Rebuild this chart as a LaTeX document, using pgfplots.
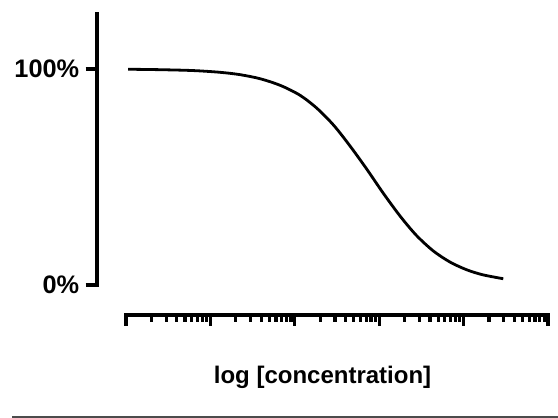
\documentclass[border=0pt]{standalone}
\usepackage{fontspec}
\setmainfont{Liberation Sans}
\usepackage{pgfplots}
\pgfplotsset{compat=1.18}

% curve: x in decades of concentration, y in percent
\begin{document}
\begin{tikzpicture}[x=1pt,y=1pt]
\useasboundingbox (0,0) rectangle (418.5,313.5);

% y axis and curve
\begin{axis}[
    at={(72.75pt,99.75pt)}, anchor=south west,
    scale only axis, width=338.25pt, height=203.6pt,
    xmin=-0.3436, xmax=5, ymin=0, ymax=125.7,
    axis x line=none, axis y line*=left,
    axis line style={line width=2.4pt, line cap=rect, -},
    ytick={0,100}, yticklabels={0\%,100\%},
    tick align=outside, major tick length=8.6pt,
    tick style={black, line width=2.4pt},
    major tick style={black, line width=2.4pt},
    yticklabel style={font=\fontsize{19}{21}\selectfont\bfseries, anchor=east, inner sep=0pt, xshift=-4.5pt},
    clip=false,
]
\addplot[black, line width=2.1pt, smooth] coordinates {
    (0.024,99.9) (0.40,99.7) (0.79,99.3) (1.11,98.5) (1.35,97.4)
    (1.59,95.5) (1.83,92.4) (2.06,87.9) (2.26,81.9) (2.46,74.0)
    (2.65,64.6) (2.85,53.8) (3.05,42.4) (3.25,31.8) (3.44,23.0)
    (3.64,15.8) (3.84,10.6) (4.04,7.0) (4.23,4.7) (4.47,2.9)
};
\end{axis}

% separate log x axis: short ticks at 2..9 of every decade
\begin{axis}[
    xmode=log, xmin=1, xmax=1e5, ymin=0, ymax=1,
    at={(94.5pt,77.25pt)}, anchor=south west,
    scale only axis, width=316.5pt, height=10pt,
    axis x line*=bottom, axis y line=none,
    axis line style={line width=2.4pt, line cap=rect, -},
    xticklabels={}, minor xtick={},
    tick align=outside, major tick length=5.25pt,
    tick style={black, line width=2.4pt},
    major tick style={black, line width=2.4pt},
    xtick={2,3,4,5,6,7,8,9,
           20,30,40,50,60,70,80,90,
           200,300,400,500,600,700,800,900,
           2000,3000,4000,5000,6000,7000,8000,9000,
           20000,30000,40000,50000,60000,70000,80000,90000},
]
\end{axis}
% long ticks at the decades
\begin{axis}[
    xmode=log, xmin=1, xmax=1e5, ymin=0, ymax=1,
    at={(94.5pt,77.25pt)}, anchor=south west,
    scale only axis, width=316.5pt, height=10pt,
    axis x line*=bottom, axis y line=none,
    axis line style={line width=2.4pt, line cap=rect, -},
    xticklabels={}, minor xtick={},
    tick align=outside, major tick length=8.25pt,
    tick style={black, line width=2.4pt},
    major tick style={black, line width=2.4pt},
    xtick={1,10,100,1000,10000,100000},
]
\end{axis}

\node[anchor=base, font=\fontsize{18}{20}\selectfont\bfseries] at (241.9,25.5) {log [concentration]};
\draw[line width=1.4pt, black!70] (9,1.0) -- (418.5,1.0);
\end{tikzpicture}
\end{document}
